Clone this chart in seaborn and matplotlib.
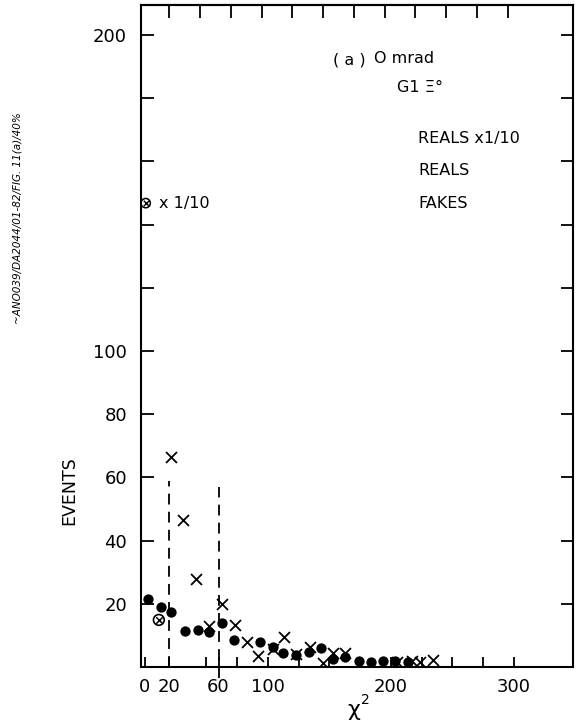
import matplotlib
matplotlib.use("Agg")
import matplotlib.pyplot as plt
import seaborn as sns
import pandas as pd

# Chi-squared distributions of reconstructed events (bins of 10 units)
reals_chi2 = [2.5, 13, 21.5, 32.5, 43, 52, 63, 72.5, 93.5, 104, 112.5, 123,
              133.5, 143, 153, 163, 174, 183.5, 194, 203.5, 214]
reals_events = [21.5, 19.0, 17.4, 11.4, 11.7, 11.0, 14.0, 8.5, 8.0, 6.2, 4.3,
                3.8, 4.8, 5.9, 2.5, 3.3, 1.9, 1.7, 1.9, 1.9, 1.6]

fakes_chi2 = [21.5, 31.5, 42, 52, 63, 73, 83, 92, 104, 113, 123, 134, 144.5,
              153, 163, 205, 217, 224, 234.5]
fakes_events = [66.4, 46.5, 27.8, 13.0, 19.8, 13.2, 7.9, 3.5, 5.6, 9.6, 4.1,
                6.2, 1.2, 4.4, 4.4, 1.5, 2.0, 1.7, 2.2]

# Reals scaled down by a factor of ten
scaled_chi2 = [11.5]
scaled_events = [14.9]

# Chi-squared cut positions and the height of each cut line
cut_chi2 = [20, 60]
cut_bottom = [0, -3.5]
cut_top = [59, 57]

x_tick_labels = [0, 20, 60, 100, 200, 300]
x_minor_ticks = [50, 75, 125, 150, 175, 225, 250, 275]
top_ticks = [20, 45, 70, 95, 120, 145, 170, 195, 220, 245, 270, 295]
y_tick_labels = [20, 40, 60, 80, 100, 200]
y_ticks = [20, 40, 60, 80, 100, 120, 140, 160, 180, 200]

sns.set_style("ticks")
plt.rcParams["font.family"] = ["DejaVu Sans"]
plt.rcParams["axes.linewidth"] = 1.5
for key in ("text.color", "axes.labelcolor", "xtick.color", "ytick.color",
            "axes.edgecolor"):
    plt.rcParams[key] = "black"

fig = plt.figure(figsize=(5.77, 7.21), dpi=100)
ax = fig.add_axes([141 / 577, 1 - 667 / 721, (573 - 141) / 577, (667 - 5) / 721])

reals = pd.DataFrame({"chi2": reals_chi2, "events": reals_events})
fakes = pd.DataFrame({"chi2": fakes_chi2, "events": fakes_events})
scaled = pd.DataFrame({"chi2": scaled_chi2, "events": scaled_events})

sns.scatterplot(data=reals, x="chi2", y="events", marker="o", s=55,
                color="black", edgecolor="black", linewidth=0, ax=ax, zorder=3)
sns.scatterplot(data=fakes, x="chi2", y="events", marker="x", s=62,
                color="black", linewidth=1.3, ax=ax, zorder=4)
sns.scatterplot(data=scaled, x="chi2", y="events", marker="o", s=60,
                facecolor="none", edgecolor="black", linewidth=1.2, ax=ax, zorder=4)
sns.scatterplot(data=scaled, x="chi2", y="events", marker="x", s=22,
                color="black", linewidth=1.1, ax=ax, zorder=5)

ax.vlines(cut_chi2, cut_bottom, cut_top, colors="black", linewidth=1.3,
          linestyles=(0, (6, 4)), clip_on=False, zorder=2)

ax.set_xlim(-3, 348)
ax.set_ylim(0, 209.5)

ax.set_xticks(x_tick_labels)
ax.set_xticklabels([str(v) for v in x_tick_labels])
ax.set_xticks(x_minor_ticks, minor=True)
ax.set_yticks(y_ticks)
ax.set_yticklabels([str(v) if v in y_tick_labels else "" for v in y_ticks])

ax.tick_params(axis="x", which="both", direction="in", length=7, width=1.3,
               pad=8, labelsize=13)
ax.tick_params(axis="y", direction="in", length=9, width=1.3, pad=10,
               labelsize=13, right=True)

top = ax.secondary_xaxis("top")
top.set_xticks(top_ticks)
top.set_xticklabels([])
top.tick_params(direction="in", length=9, width=1.3)

ax.set_xlabel("")
ax.set_ylabel("")
fig.text(354 / 577, 1 - 710 / 721, "χ", ha="center", va="center", fontsize=16)
fig.text(365 / 577, 1 - 700 / 721, "2", ha="center", va="center", fontsize=10)
ax.text(-0.165, 0.267, "EVENTS", transform=ax.transAxes, rotation=90,
        ha="center", va="center", fontsize=12.5)

# Panel annotations
ax.text(166, 192, "( a )", ha="center", va="center", fontsize=11.5)
ax.text(186, 192.7, "O mrad", ha="left", va="center", fontsize=11.5)
ax.text(205, 183.5, "G1 Ξ°", ha="left", va="center", fontsize=11.5)
ax.text(222, 167.4, "REALS x1/10", ha="left", va="center", fontsize=11.5)
ax.text(222, 157, "REALS", ha="left", va="center", fontsize=11.5)
ax.text(222, 146.8, "FAKES", ha="left", va="center", fontsize=11.5)

ax.scatter([0.8], [146.8], marker="o", s=45, facecolor="none",
           edgecolor="black", linewidth=1.1, clip_on=False, zorder=5)
ax.scatter([0.8], [146.8], marker="x", s=16, color="black", linewidth=1.0,
           clip_on=False, zorder=5)
ax.text(12, 146.8, "x 1/10", ha="left", va="center", fontsize=11.5)

fig.text(18 / 577, 1 - 218 / 721, "~ANO039/DA2044/01-82/FIG. 11(a)/40%",
         rotation=90, ha="center", va="center", fontsize=7.5, style="italic")

fig.savefig("out.png", dpi=100, facecolor="white")
